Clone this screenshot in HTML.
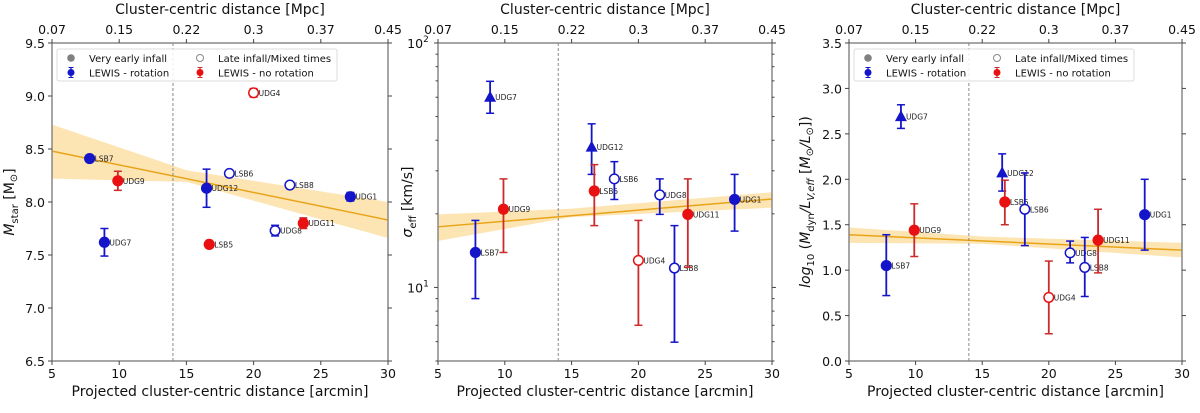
<!DOCTYPE html>
<html><head><meta charset="utf-8"><style>
html,body{margin:0;padding:0;background:#fff;width:1200px;height:413px;overflow:hidden}
svg{font-family:"DejaVu Sans","Liberation Sans",sans-serif}
</style></head><body>
<svg id="chart" width="1200" height="413" viewBox="0 0 1200 413" xmlns="http://www.w3.org/2000/svg"></svg>
<script>
// shared
const labels = ["LSB7","UDG9","UDG7","UDG12","LSB5","LSB6","UDG4","UDG8","LSB8","UDG11","UDG1"];
const xDist = [7.8,9.9,8.9,16.5,16.7,18.2,20.0,21.6,22.7,23.7,27.2];
const colors = ["b","r","b","b","r","b","r","b","b","r","b"];
const openPts = [0,0,0,0,0,1,1,1,1,0,0];
const xTicks = [5,10,15,20,25,30];
const topTickLabels = ["0.07","0.15","0.22","0.3","0.37","0.45"];
// panel 1: Mstar
const mstarVal = [8.41,8.20,7.62,8.13,7.60,8.27,9.03,7.73,8.16,7.80,8.05];
const mstarLo  = [8.41,8.11,7.49,7.95,7.60,8.27,8.99,7.68,8.16,7.75,8.01];
const mstarHi  = [8.41,8.29,7.75,8.31,7.60,8.27,9.07,7.78,8.16,7.85,8.09];
const mstarTri = [0,0,0,0,0,0,0,0,0,0,0];
const mstarFit = [8.48,7.83];
const mstarBandLo = [8.22,8.19,7.66];
const mstarBandHi = [8.73,8.30,8.00];
const mstarTicks = [6.5,7.0,7.5,8.0,8.5,9.0,9.5];
// panel 2: sigma
const sigVal = [13.9,20.9,60,37.5,24.8,27.8,12.9,23.9,12.0,19.9,22.9];
const sigLo  = [9.0,13.9,51.6,29.0,17.9,22.9,7.0,19.9,5.97,12.1,17.0];
const sigHi  = [18.8,27.8,69.7,46.7,31.8,32.7,18.8,27.8,17.9,27.8,29.0];
const sigTri = [0,0,1,1,0,0,0,0,0,0,0];
const sigFit = [17.7,23.0];
const sigBandLo = [15.5,19.4,21.2];
const sigBandHi = [19.9,21.0,24.5];
// panel 3: M/L
const mlVal = [1.05,1.44,2.69,2.07,1.75,1.67,0.70,1.19,1.03,1.33,1.61];
const mlLo  = [0.72,1.15,2.56,1.87,1.50,1.27,0.30,1.08,0.71,0.97,1.22];
const mlHi  = [1.39,1.73,2.82,2.28,1.99,2.07,1.10,1.32,1.36,1.67,2.00];
const mlTri = [0,0,1,1,0,0,0,0,0,0,0];
const mlFit = [1.39,1.22];
const mlBandLo = [1.30,1.29,1.14];
const mlBandHi = [1.47,1.37,1.30];
const mlTicks = [0.0,0.5,1.0,1.5,2.0,2.5,3.0,3.5];

const NS="http://www.w3.org/2000/svg";
const svg=document.getElementById('chart');
function mk(tag,attrs,parent){const e=document.createElementNS(NS,tag);for(const k in attrs)e.setAttribute(k,attrs[k]);(parent||svg).appendChild(e);return e;}
const BLUE="#1414c8", RED="#e81010", REDE="#cc2b2b";

function panel(cfg){
  const g=mk('g',{});
  
  
  const L=cfg.x0,R=cfg.x1,T=43,B=361;
  const sx=v=>L+(v-5)/25*(R-L);
  const sy=cfg.log?(v=>B-(Math.log10(v)-Math.log10(cfg.ymin))/(Math.log10(cfg.ymax)-Math.log10(cfg.ymin))*(B-T))
                  :(v=>B-(v-cfg.ymin)/(cfg.ymax-cfg.ymin)*(B-T));
  const xs=[5,15,30];
  let d='M'+xs.map((x,i)=>sx(x)+','+sy(cfg.bandHi[i])).join('L');
  d+='L'+xs.slice().reverse().map((x,i)=>sx(x)+','+sy(cfg.bandLo[2-i])).join('L')+'Z';
  const band=mk('path',{d:d,fill:'#fddfa6',opacity:'0.85'},g);
  
  
  const fl=mk('line',{x1:sx(5),y1:sy(cfg.fit[0]),x2:sx(30),y2:sy(cfg.fit[1]),stroke:'#e8a418','stroke-width':1.5},g);
  
  
  const dl=mk('line',{x1:sx(14),y1:T,x2:sx(14),y2:B,stroke:'#888','stroke-width':1,'stroke-dasharray':'3,2'},g);
  
  
  const fr=mk('rect',{x:L,y:T,width:R-L,height:B-T,fill:'none',stroke:'#888','stroke-width':1.5},g);
  
  
  xTicks.forEach((v,i)=>{
    const x=sx(v);
    mk('line',{x1:x,y1:B,x2:x,y2:B+4,stroke:'#444'},g);
    mk('line',{x1:x,y1:T,x2:x,y2:T-4,stroke:'#444'},g);
    const t=mk('text',{x:x,y:B+17,'font-size':12.5,'text-anchor':'middle',fill:'#111'},g);t.textContent=v;
    
    
    const t2=mk('text',{x:x,y:T-9,'font-size':12.5,'text-anchor':'middle',fill:'#111'},g);t2.textContent=topTickLabels[i];
    
    
  });
  const xt=mk('text',{x:(L+R)/2,y:B+35,'font-size':14,'text-anchor':'middle',fill:'#111'},g);xt.textContent='Projected cluster-centric distance [arcmin]';
  
  
  const tt=mk('text',{x:(L+R)/2,y:14,'font-size':14,'text-anchor':'middle',fill:'#111'},g);tt.textContent='Cluster-centric distance [Mpc]';
  
  
  if(cfg.log){
    for(let v=5;v<=100;v+=(v<10?1:10)){
      const y=sy(v),maj=(v===10||v===100);
      mk('line',{x1:L,y1:y,x2:L-(maj?4:2.5),y2:y,stroke:'#444'},g);
      mk('line',{x1:R,y1:y,x2:R+(maj?4:2.5),y2:y,stroke:'#444'},g);
      if(maj){const t=mk('text',{x:L-20,y:y+5,'font-size':12.5,'text-anchor':'middle',fill:'#111'},g);
        t.innerHTML='10<tspan font-size="9" dy="-6">'+(v===10?1:2)+'</tspan>';
        
        }
    }
  } else {
    cfg.ticks.forEach(v=>{
      const y=sy(v);
      mk('line',{x1:L,y1:y,x2:L-4,y2:y,stroke:'#444'},g);
      mk('line',{x1:R,y1:y,x2:R+4,y2:y,stroke:'#444'},g);
      const t=mk('text',{x:L-7,y:y+5,'font-size':12.5,'text-anchor':'end',fill:'#111'},g);t.textContent=v.toFixed(1);
      
      
    });
  }
  const yt=mk('text',{x:0,y:0,'font-size':14,'text-anchor':'middle',fill:'#111',transform:'translate('+cfg.ytx+','+((T+B)/2)+') rotate(-90)'},g);
  yt.innerHTML=cfg.ytitle;
  
  
  labels.forEach((lab,i)=>{
    const x=sx(xDist[i]),y=sy(cfg.val[i]);
    const col=colors[i]==='b'?BLUE:RED, ecol=colors[i]==='b'?BLUE:REDE;
    const pg=mk('g',{},g);
    
    
    if(cfg.hi[i]!==cfg.lo[i]){
      const y1=sy(cfg.hi[i]),y2=sy(cfg.lo[i]);
      mk('line',{x1:x,y1:y1,x2:x,y2:y2,stroke:ecol,'stroke-width':1.8},pg);
      mk('line',{x1:x-4,y1:y1,x2:x+4,y2:y1,stroke:ecol,'stroke-width':1.5},pg);
      mk('line',{x1:x-4,y1:y2,x2:x+4,y2:y2,stroke:ecol,'stroke-width':1.5},pg);
    }
    if(cfg.tri[i]){
      mk('path',{d:`M${x},${y-6.5}L${x+6},${y+4.5}L${x-6},${y+4.5}Z`,fill:col},pg);
    } else if(openPts[i]){
      mk('circle',{cx:x,cy:y,r:4.8,fill:'#fff',stroke:col,'stroke-width':1.5},pg);
    } else {
      mk('circle',{cx:x,cy:y,r:5.6,fill:col},pg);
    }
    const t=mk('text',{x:x+5,y:y+3,'font-size':7.5,fill:'#222'},pg);t.textContent=lab;
  });
  if(cfg.legend){
    const lx=L+5,ly=T+6;
    const lg=mk('g',{},g);
    
    
    mk('rect',{x:lx,y:ly,width:280,height:32,rx:2,fill:'#fff','fill-opacity':0.85,stroke:'#ddd'},lg);
    const items=[['Very early infall',0,0,'fill'],['LEWIS - rotation',0,1,'blue'],['Late infall/Mixed times',1,0,'open'],['LEWIS - no rotation',1,1,'red']];
    items.forEach(it=>{
      const mx=lx+14+it[1]*129, my=ly+9+it[2]*14.5;
      const e=mk('g',{},lg);
      
      
      if(it[3]==='fill') mk('circle',{cx:mx,cy:my,r:3.8,fill:'#808080'},e);
      else if(it[3]==='open') mk('circle',{cx:mx,cy:my,r:3.5,fill:'#fff',stroke:'#888'},e);
      else{const c=it[3]==='blue'?BLUE:RED;
        mk('line',{x1:mx,y1:my-5,x2:mx,y2:my+5,stroke:it[3]==='blue'?BLUE:REDE,'stroke-width':1.2},e);
        mk('line',{x1:mx-2.5,y1:my-5,x2:mx+2.5,y2:my-5,stroke:it[3]==='blue'?BLUE:REDE},e);
        mk('line',{x1:mx-2.5,y1:my+5,x2:mx+2.5,y2:my+5,stroke:it[3]==='blue'?BLUE:REDE},e);
        mk('circle',{cx:mx,cy:my,r:3.5,fill:c},e);}
      const t=mk('text',{x:mx+18,y:my+4,'font-size':10,fill:'#111'},e);t.textContent=it[0];
    });
  }
}
panel({name:'panel-stellar-mass',x0:52,x1:388,ymin:6.5,ymax:9.5,ticks:mstarTicks,val:mstarVal,lo:mstarLo,hi:mstarHi,tri:mstarTri,fit:mstarFit,bandLo:mstarBandLo,bandHi:mstarBandHi,legend:true,ytx:14,
  ytitle:'<tspan font-style="italic">M</tspan><tspan font-size="10" dy="4">star</tspan><tspan dy="-4"> [M</tspan><tspan font-size="10" dy="3">⊙</tspan><tspan dy="-3">]</tspan>'});
panel({name:'panel-velocity-dispersion',x0:438,x1:772,log:true,ymin:5,ymax:100,val:sigVal,lo:sigLo,hi:sigHi,tri:sigTri,fit:sigFit,bandLo:sigBandLo,bandHi:sigBandHi,legend:false,ytx:412,
  ytitle:'<tspan font-style="italic">σ</tspan><tspan font-size="10" dy="4">eff</tspan><tspan dy="-4"> [km/s]</tspan>'});
panel({name:'panel-mass-to-light',x0:849,x1:1182,ymin:0,ymax:3.5,ticks:mlTicks,val:mlVal,lo:mlLo,hi:mlHi,tri:mlTri,fit:mlFit,bandLo:mlBandLo,bandHi:mlBandHi,legend:true,ytx:810,
  ytitle:'<tspan font-style="italic">log</tspan><tspan font-size="10" dy="4">10</tspan><tspan dy="-4"> (</tspan><tspan font-style="italic">M</tspan><tspan font-size="10" dy="4">dyn</tspan><tspan dy="-4" font-style="italic">/L</tspan><tspan font-size="10" dy="4" font-style="italic">V,eff</tspan><tspan dy="-4"> [</tspan><tspan font-style="italic">M</tspan><tspan font-size="10" dy="3">⊙</tspan><tspan dy="-3" font-style="italic">/L</tspan><tspan font-size="10" dy="3">⊙</tspan><tspan dy="-3">])</tspan>'});
</script>
</body></html>
